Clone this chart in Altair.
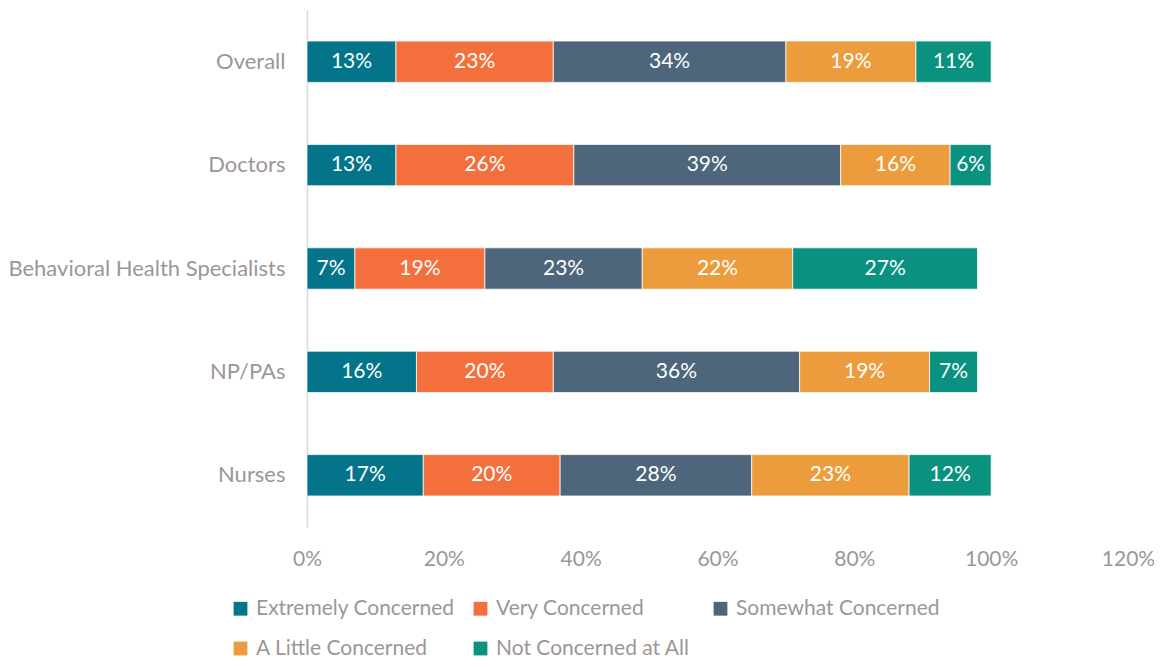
import altair as alt
import pandas as pd

categories = ["Overall", "Doctors", "Behavioral Health Specialists", "NP/PAs", "Nurses"]
series = ["Extremely Concerned", "Very Concerned", "Somewhat Concerned",
          "A Little Concerned", "Not Concerned at All"]
extremely = [13, 13, 7, 16, 17]
very = [23, 26, 19, 20, 20]
somewhat = [34, 39, 23, 36, 28]
a_little = [19, 16, 22, 19, 23]
not_at_all = [11, 6, 27, 7, 12]
colors = ["#03748A", "#F3703D", "#4D667B", "#EC9C3D", "#0A917F"]
x_ticks = [0, 0.2, 0.4, 0.6, 0.8, 1.0, 1.2]

rows = []
for i, cat in enumerate(categories):
    for j, (name, vals) in enumerate(zip(series, [extremely, very, somewhat, a_little, not_at_all])):
        rows.append({"category": cat, "series": name, "order": j, "pct": vals[i]})
df = pd.DataFrame(rows)

FONT = "Lato"
GRAY = "#9d9696"

base = alt.Chart(df).transform_calculate(
    value="datum.pct / 100"
).transform_stack(
    stack="value", groupby=["category"], as_=["v0", "v1"],
    sort=[alt.SortField("order", order="ascending")]
).transform_calculate(
    mid="(datum.v0 + datum.v1) / 2",
    label="datum.pct + '%'"
)

y_enc = alt.Y("category:N", sort=categories, title=None,
              scale=alt.Scale(paddingInner=0.6, paddingOuter=0.3),
              axis=alt.Axis(domain=True, domainColor="#d9d9d9", domainWidth=1.5,
                            ticks=False, labelFontSize=22, labelColor=GRAY,
                            labelFont=FONT, labelPadding=22, labelLimit=400))

bars = base.mark_bar(stroke="white", strokeWidth=0.75).encode(
    x=alt.X("v0:Q", title=None,
            scale=alt.Scale(domain=[0, 1.2], nice=False, zero=True),
            axis=alt.Axis(values=x_ticks, format=".0%", domain=False, ticks=False,
                          grid=False, labelFontSize=21, labelColor=GRAY,
                          labelFont=FONT, labelPadding=21, labelFlush=False,
                          labelOverlap=False)),
    x2="v1:Q",
    y=y_enc,
    color=alt.Color("series:N", scale=alt.Scale(domain=series, range=colors),
                    sort=series, title=None,
                    legend=alt.Legend(orient="none", legendX=-77, legendY=588,
                                      direction="horizontal", columns=3,
                                      gridAlign="all", columnPadding=10,
                                      rowPadding=18, symbolType="square",
                                      symbolSize=190, symbolStrokeWidth=0,
                                      labelFontSize=21, labelColor=GRAY,
                                      labelFont=FONT, labelOffset=5,
                                      labelLimit=400)),
    order=alt.Order("order:Q"),
)

texts = base.mark_text(color="white", fontSize=21, font=FONT, baseline="middle").encode(
    x=alt.X("mid:Q"),
    y=alt.Y("category:N", sort=categories),
    text="label:N",
)

chart = (bars + texts).properties(
    width=821, height=517,
    autosize=alt.AutoSizeParams(type="none"),
    padding={"left": 299, "top": 2, "right": 26, "bottom": 131},
).configure_view(stroke=None)

chart.save("out.html", embed_options={"renderer": "svg", "actions": False})
